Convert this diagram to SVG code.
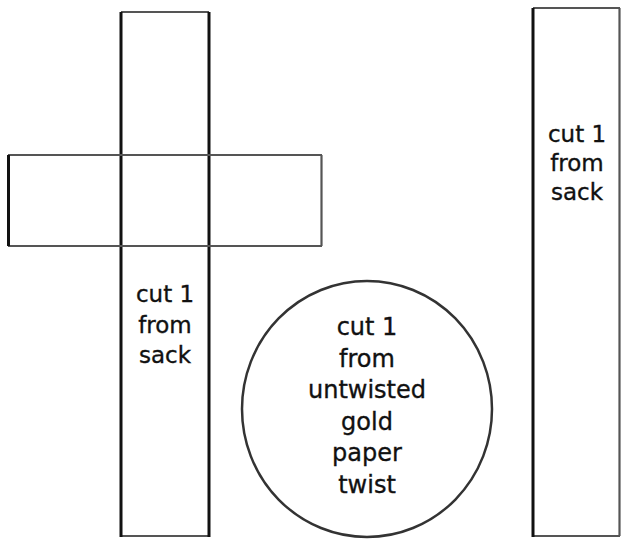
<svg xmlns="http://www.w3.org/2000/svg" width="621" height="541" viewBox="0 0 621 541">
<style>
.v{stroke:#111;stroke-width:3;fill:none}
.h{stroke:#555;stroke-width:2.2;fill:none}
.c{stroke:#333;stroke-width:2.5;fill:none}
text{font-family:"DejaVu Sans","Liberation Sans",sans-serif;fill:#111;stroke:#111;stroke-width:0.35;text-anchor:middle}
.t1{font-size:23px}
.t2{font-size:24px}
</style>
<rect width="621" height="541" fill="#fff"/>
<g id="cross">
<g id="cross-vertical">
<line class="h" x1="121" y1="12" x2="209" y2="12"/>
<line class="h" x1="121" y1="536" x2="209" y2="536"/>
<line class="v" x1="121" y1="12" x2="121" y2="537"/>
<line class="v" x1="209" y1="12" x2="209" y2="537"/>
</g>
<g id="cross-horizontal">
<line class="h" x1="8" y1="155" x2="322" y2="155"/>
<line class="h" x1="8" y1="246" x2="322" y2="246"/>
<line class="v" x1="8.5" y1="155" x2="8.5" y2="246"/>
<line class="h" x1="321.5" y1="155" x2="321.5" y2="246"/>
</g>
<text class="t1" x="165" y="302">cut 1</text>
<text class="t1" x="165" y="333">from</text>
<text class="t1" x="165" y="363">sack</text>
</g>
<g id="circle">
<ellipse class="c" cx="367" cy="409" rx="125" ry="128"/>
<text class="t2" x="367" y="335">cut 1</text>
<text class="t2" x="367" y="366.5">from</text>
<text class="t2" x="367" y="398">untwisted</text>
<text class="t2" x="367" y="429.5">gold</text>
<text class="t2" x="367" y="461">paper</text>
<text class="t2" x="367" y="492.5">twist</text>
</g>
<g id="strip">
<line class="h" x1="533" y1="8" x2="620" y2="8"/>
<line class="h" x1="533" y1="536" x2="620" y2="536"/>
<line class="v" x1="533" y1="8" x2="533" y2="537"/>
<line class="h" x1="619.5" y1="8" x2="619.5" y2="536"/>
<text class="t1" x="577" y="142">cut 1</text>
<text class="t1" x="577" y="171">from</text>
<text class="t1" x="577" y="200">sack</text>
</g>
</svg>
